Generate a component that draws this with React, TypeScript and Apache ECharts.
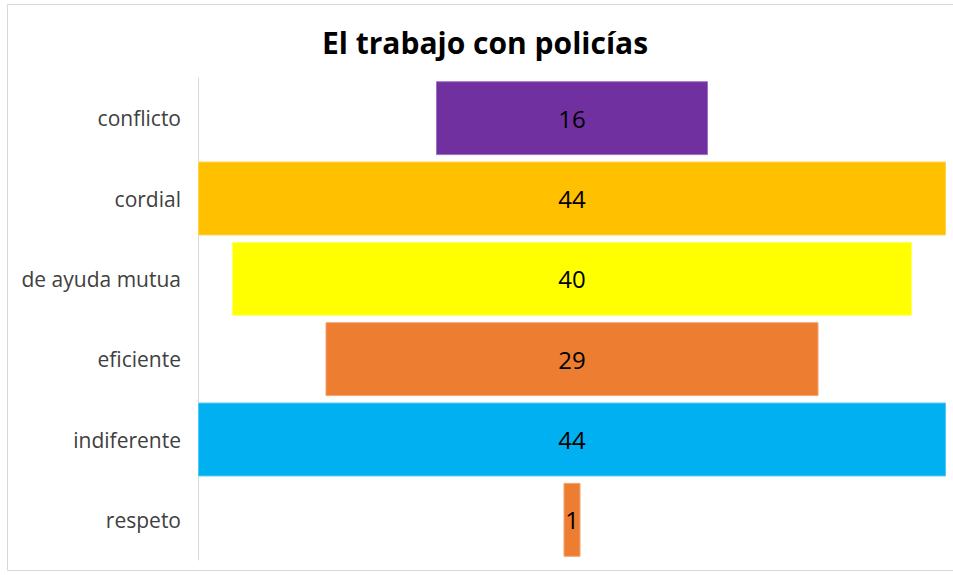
import React, { useEffect, useRef } from "react";
import * as echarts from "echarts";

const categories = ["conflicto", "cordial", "de ayuda mutua", "eficiente", "indiferente", "respeto"];
const values = [16, 44, 40, 29, 44, 1];
const colors = ["#7030A0", "#FFC000", "#FFFF00", "#ED7D31", "#00B0F0", "#ED7D31"];
const borderColors = ["#9F6FC4", "#FFD24D", "#FFFF66", "#F3A270", "#4DCBF5", "#F3A270"];

export default function App() {
  const ref = useRef<HTMLDivElement>(null);
  useEffect(() => {
    if (!ref.current) return;
    const chart = echarts.init(ref.current, null, { renderer: "svg" });
    const maxV = Math.max(...values);
    const offsets = values.map((v) => (maxV - v) / 2);
    chart.setOption({
      animation: false,
      backgroundColor: "#ffffff",
      title: {
        text: "El trabajo con policías",
        left: 480,
        top: 22,
        textAlign: "center",
        textStyle: { fontFamily: "Open Sans", fontWeight: "bold", fontSize: 30, color: "#000000" },
      },
      graphic: [
        {
          type: "rect",
          shape: { x: 7.5, y: 4.5, width: 980, height: 566 },
          style: { fill: "none", stroke: "#d9d9d9", lineWidth: 1 },
          silent: true,
        },
      ],
      grid: { left: 198, right: 7, top: 78, bottom: 15, containLabel: false },
      xAxis: {
        type: "value",
        min: 0,
        max: maxV,
        show: false,
      },
      yAxis: {
        type: "category",
        data: categories,
        inverse: true,
        axisLine: { show: true, lineStyle: { color: "#d9d9d9", width: 1 } },
        axisTick: { show: false },
        axisLabel: {
          margin: 17,
          fontFamily: "Open Sans",
          fontSize: 21,
          color: "#404040",
        },
        splitLine: { show: false },
      },
      series: [
        {
          type: "bar",
          stack: "f",
          silent: true,
          data: offsets,
          itemStyle: { color: "transparent" },
          barCategoryGap: "8%",
        },
        {
          type: "bar",
          stack: "f",
          data: values.map((v, i) => ({
            value: v,
            itemStyle: { color: colors[i], borderColor: borderColors[i], borderWidth: 1 },
          })),
          barCategoryGap: "8%",
          label: {
            show: true,
            position: "inside",
            fontFamily: "Open Sans",
            fontSize: 24,
            color: "#000000",
          },
        },
      ],
    });
    return () => chart.dispose();
  }, []);
  return <div ref={ref} style={{ width: 953, height: 575, position: "absolute", left: 0, top: 0 }} />;
}
